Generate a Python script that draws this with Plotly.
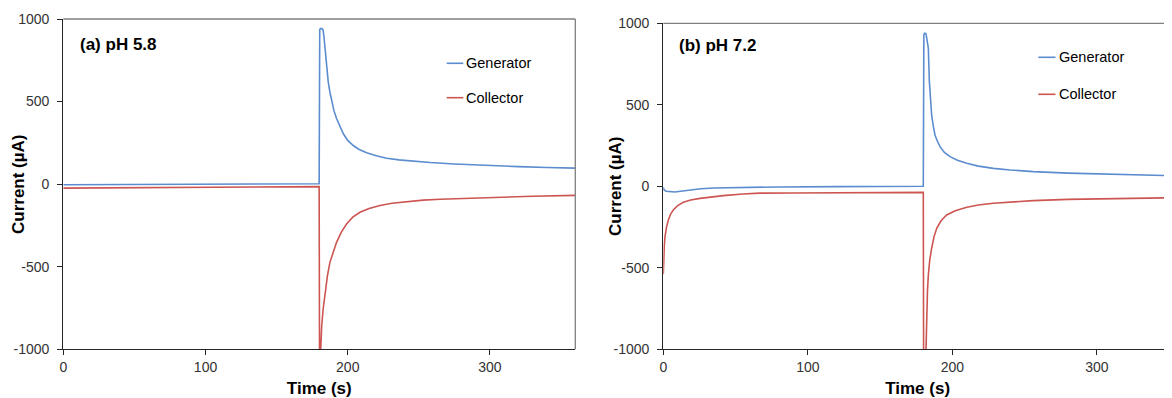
import plotly.graph_objects as go

# ---------------- data ----------------
# Panel (a) pH 5.8
tA_gen = [0, 60, 120, 179.9, 180.3, 180.8, 181.8, 182.6, 183.2, 184.0, 185.0, 186.3, 187.5, 188.7,
          190.3, 192.2, 194.5, 196.9, 200.0, 203.9, 208.0, 213.3, 220.0, 227.4, 236.0, 246.1,
          258.0, 275.0, 293.0, 320.0, 340.0, 360.0]
vA_gen = [-4, -2, 0, 2, 935, 942, 942, 935, 900, 820, 720, 618, 555, 497,
          445, 396, 347, 305, 265, 234, 210, 190, 172, 157, 147, 139,
          131, 122, 114, 106, 101, 97]

tA_col = [0, 60, 120, 179.9, 180.2, 180.6, 181.0, 181.7, 182.8, 184.0, 185.7, 187.5, 189.8,
          192.2, 195.5, 199.3, 203.5, 208.6, 215.0, 222.7, 231.0, 241.5, 253.0, 265.0,
          280.0, 293.0, 310.0, 330.0, 360.0]
vA_col = [-24, -21, -18, -15, -1200, -1200, -1000, -856, -750, -654, -555, -472, -405,
          -351, -290, -240, -200, -170, -147, -129, -116, -105, -97, -91,
          -86, -82, -78, -73, -68]

# Panel (b) pH 7.2
tB_gen = [0, 0.5, 2, 5, 8, 12, 18, 26, 35, 55, 80, 120, 160, 179.9, 180.3, 181.0, 181.8,
          182.5, 183.4, 184.1, 184.9, 185.7, 186.8, 188.0, 189.6, 191.5, 194.5, 198.4,
          203.5, 210.0, 218.0, 228.4, 240.0, 256.0, 280.0, 300.0, 325.0, 352.0]
vB_gen = [-5, -22, -30, -34, -35, -30, -22, -15, -10, -6, -4, -2, -1, 0, 930, 940, 935,
          900, 847, 642, 530, 437, 370, 315, 278, 243, 208, 182,
          160, 141, 124, 110, 100, 90, 81, 76, 70, 65]

tB_col = [0, 0.3, 0.7, 1.2, 2.2, 3.5, 5, 6.9, 10, 13.8, 19, 25.4, 33, 41.5, 55, 66.9, 90,
          120, 150, 179.9, 180.2, 181.2, 181.8, 182.3, 182.8, 183.4, 184.4, 185.7, 187.3,
          189.2, 192.3, 196.1, 202.0, 210.0, 218.0, 228.4, 240.0, 256.0, 280.0, 300.0,
          325.0, 352.0]
vB_col = [-540, -420, -360, -309, -250, -207, -172, -145, -118, -98, -84, -74, -64, -57, -47,
          -42, -41, -39, -38, -37, -1400, -1400, -1000, -748, -640, -544, -450, -380, -310,
          -258, -210, -176, -150, -129, -115, -104, -96, -88, -80, -76, -72, -70]

series_names = ["Generator", "Collector"]
panel_labels = ["(a) pH 5.8", "(b) pH 7.2"]
x_ticks = [0, 100, 200, 300]
y_ticks = [-1000, -500, 0, 500, 1000]

# ---------------- style ----------------
OFF = 8  # page body margin of the browser
W, H = 1172 - OFF, 398 - OFF
BLUE = "#5b8ccf"
RED = "#cc5552"
AXIS = "#262626"
FRAME = "#7f7f7f"
TXT = "#333333"
FONT = "Liberation Sans, Arial, sans-serif"


def px(x):
    """screen pixel x -> paper fraction"""
    return (x - OFF) / W


def py(y):
    """screen pixel y -> paper fraction"""
    return 1 - (y - OFF) / H


fig = go.Figure()
fig.add_trace(go.Scatter(x=tA_gen, y=vA_gen, mode="lines", name=series_names[0],
                         line=dict(color=BLUE, width=1.6), xaxis="x", yaxis="y", showlegend=False))
fig.add_trace(go.Scatter(x=tA_col, y=vA_col, mode="lines", name=series_names[1],
                         line=dict(color=RED, width=1.6), xaxis="x", yaxis="y", showlegend=False))
fig.add_trace(go.Scatter(x=tB_gen, y=vB_gen, mode="lines", name=series_names[0],
                         line=dict(color=BLUE, width=1.6), xaxis="x2", yaxis="y2", showlegend=False))
fig.add_trace(go.Scatter(x=tB_col, y=vB_col, mode="lines", name=series_names[1],
                         line=dict(color=RED, width=1.6), xaxis="x2", yaxis="y2", showlegend=False))

xcommon = dict(showgrid=False, zeroline=False, showline=True, linecolor=AXIS, linewidth=1.3,
               ticks="outside", ticklen=5, tickcolor=AXIS, tickwidth=1.2,
               tickvals=x_ticks, ticktext=[str(v) for v in x_ticks], automargin=False,
               tickfont=dict(family=FONT, size=14, color=TXT), ticklabelstandoff=0,
               title=dict(text="<b>Time (s)</b>", font=dict(family=FONT, size=17, color="#000"),
                          standoff=8))
ycommon = dict(showgrid=False, zeroline=False, showline=True, linecolor=AXIS, linewidth=1.3,
               ticks="outside", ticklen=5, tickcolor=AXIS, tickwidth=1.2,
               tickvals=y_ticks, ticktext=[str(v) for v in y_ticks], automargin=False,
               range=[-1000, 1000], tickfont=dict(family=FONT, size=14, color=TXT),
               ticklabelstandoff=5)

fig.update_layout(
    width=W, height=H, margin=dict(l=0, r=0, t=0, b=0, autoexpand=False),
    paper_bgcolor="white", plot_bgcolor="white",
    xaxis=dict(xcommon, domain=[px(63.3), px(575.3)], range=[0, 360], anchor="y"),
    yaxis=dict(ycommon, domain=[py(349.3), py(19)], anchor="x"),
    xaxis2=dict(xcommon, domain=[px(663.3), 1.0], range=[0, 352], anchor="y2"),
    yaxis2=dict(ycommon, domain=[py(349.3), py(23.3)], anchor="x2"),
)

# frame (top / right borders)
for xr, yr, right in [("x", "y", True), ("x2", "y2", False)]:
    fig.add_shape(type="line", xref=f"{xr} domain", yref=f"{yr} domain", x0=0, x1=1, y0=1, y1=1,
                  line=dict(color=FRAME, width=1.3))
    if right:
        fig.add_shape(type="line", xref=f"{xr} domain", yref=f"{yr} domain", x0=1, x1=1, y0=0,
                      y1=1, line=dict(color=FRAME, width=1.3))

# y titles
for xc, yc in [(19, 184), (616, 186)]:
    fig.add_annotation(x=px(xc), y=py(yc), xref="paper", yref="paper", text="<b>Current (µA)</b>",
                       textangle=-90, showarrow=False, xanchor="center", yanchor="middle",
                       font=dict(family=FONT, size=17, color="#000"))

# panel labels
for lab, xl, yl in [(panel_labels[0], 78, 44), (panel_labels[1], 676.5, 45)]:
    fig.add_annotation(x=px(xl), y=py(yl), xref="paper", yref="paper", text=f"<b>{lab}</b>",
                       showarrow=False, xanchor="left", yanchor="middle",
                       font=dict(family=FONT, size=17, color="#000"))

# legends
legend_pos = [(446.7, 463.3, 63.3, 97.7), (1038.3, 1055.5, 57.3, 94.3)]
for x0, x1, yg, yc in legend_pos:
    for name, col, yy in [(series_names[0], BLUE, yg), (series_names[1], RED, yc)]:
        fig.add_shape(type="line", xref="paper", yref="paper", x0=px(x0), x1=px(x1),
                      y0=py(yy), y1=py(yy), line=dict(color=col, width=1.6))
        fig.add_annotation(x=px(x1 + 1), y=py(yy), xref="paper", yref="paper", text=name,
                           showarrow=False, xanchor="left", yanchor="middle",
                           font=dict(family=FONT, size=14.5, color="#000"))

fig.write_html("out.html")
